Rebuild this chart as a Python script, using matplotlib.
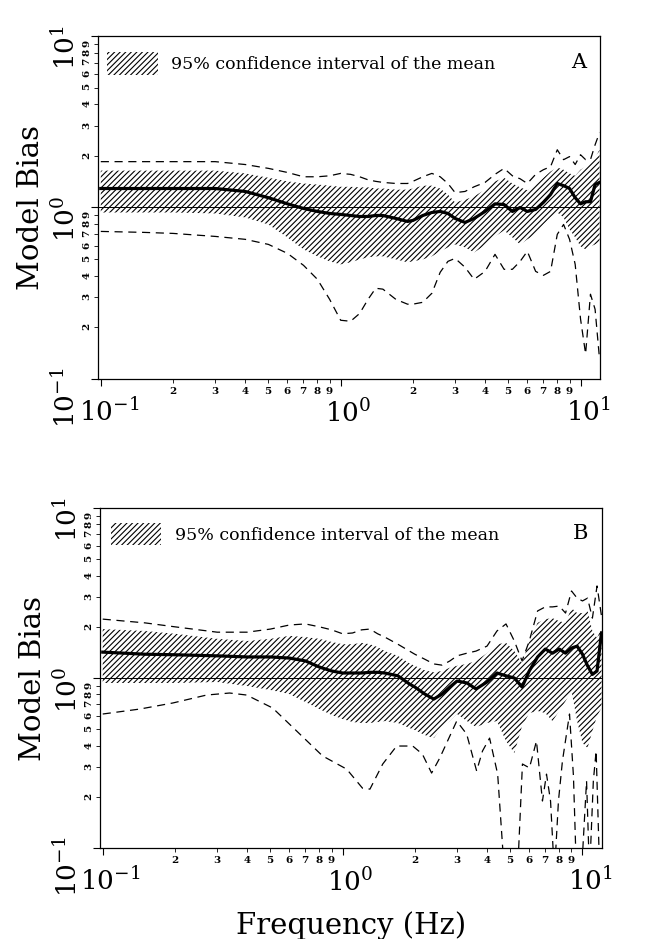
import numpy as np
import matplotlib
matplotlib.use('Agg')
import matplotlib.pyplot as plt
from matplotlib.ticker import LogLocator, FuncFormatter
from matplotlib.transforms import ScaledTranslation

plt.rcParams['font.family'] = ['DejaVu Serif']
plt.rcParams['mathtext.fontset'] = 'dejavuserif'
plt.rcParams['hatch.linewidth'] = 0.8

# ---------------- data ----------------
freq = [0.1, 0.15, 0.2, 0.3, 0.4, 0.5, 0.6, 0.7, 0.8, 0.9,
        1.0, 1.1, 1.2, 1.3, 1.4, 1.5, 1.7, 1.9, 2.0, 2.2,
        2.4, 2.6, 2.8, 3.0, 3.3, 3.6, 4.0, 4.4, 4.8, 5.2,
        5.6, 6.0, 6.5, 7.0, 7.5, 8.0, 8.5, 9.0, 9.5, 10,
        10.5, 11, 11.5, 12]

# Panel A
a_upper_dash = [1.85, 1.85, 1.85, 1.85, 1.78, 1.69, 1.60, 1.51, 1.51, 1.53,
                1.58, 1.56, 1.51, 1.45, 1.42, 1.40, 1.38, 1.38, 1.42, 1.51,
                1.58, 1.51, 1.38, 1.22, 1.24, 1.32, 1.40, 1.56, 1.69, 1.53,
                1.47, 1.38, 1.56, 1.66, 1.73, 2.17, 1.90, 1.98, 1.78, 2.03,
                1.90, 1.90, 2.32, 2.73]
a_ci_hi = [1.64, 1.64, 1.64, 1.64, 1.58, 1.49, 1.42, 1.38, 1.36, 1.34,
           1.32, 1.32, 1.31, 1.31, 1.29, 1.29, 1.27, 1.27, 1.29, 1.34,
           1.34, 1.29, 1.19, 1.07, 1.11, 1.16, 1.27, 1.42, 1.49, 1.38,
           1.31, 1.26, 1.36, 1.49, 1.62, 1.71, 1.66, 1.58, 1.53, 1.66,
           1.73, 1.83, 1.95, 2.17]
a_mean = [1.29, 1.29, 1.29, 1.29, 1.24, 1.14, 1.05, 0.987, 0.948, 0.923,
          0.911, 0.898, 0.886, 0.886, 0.898, 0.898, 0.863, 0.829, 0.840, 0.898,
          0.935, 0.948, 0.923, 0.863, 0.818, 0.863, 0.948, 1.05, 1.04, 0.948,
          1.0, 0.948, 0.974, 1.07, 1.19, 1.38, 1.34, 1.29, 1.14, 1.05,
          1.08, 1.08, 1.36, 1.40]
a_ci_lo = [0.935, 0.935, 0.935, 0.923, 0.875, 0.796, 0.669, 0.570, 0.519, 0.485,
           0.466, 0.479, 0.498, 0.512, 0.519, 0.519, 0.498, 0.479, 0.485, 0.498,
           0.519, 0.555, 0.585, 0.609, 0.585, 0.547, 0.601, 0.678, 0.735, 0.669,
           0.609, 0.652, 0.697, 0.796, 0.875, 0.935, 0.875, 0.745, 0.669, 0.593,
           0.570, 0.593, 0.609, 0.626]
a_lower_dash = [0.725, 0.716, 0.706, 0.678, 0.652, 0.609, 0.540, 0.460, 0.381, 0.291,
                0.220, 0.217, 0.241, 0.291, 0.338, 0.334, 0.291, 0.273, 0.273, 0.280,
                0.316, 0.419, 0.485, 0.505, 0.448, 0.381, 0.424, 0.533, 0.436, 0.436,
                0.485, 0.555, 0.424, 0.402, 0.424, 0.697, 0.796, 0.652, 0.466, 0.224,
                0.140, 0.312, 0.255, 0.131]

# Panel B
b_upper_dash = [2.22, 2.11, 2.00, 1.86, 1.86, 1.94, 2.05, 2.08, 2.00, 1.92,
                1.82, 1.84, 1.92, 1.94, 1.82, 1.74, 1.58, 1.44, 1.38, 1.29,
                1.21, 1.19, 1.26, 1.35, 1.40, 1.44, 1.54, 1.89, 2.08, 1.65,
                1.26, 1.65, 2.48, 2.62, 2.62, 2.65, 2.41, 3.25, 2.95, 2.84,
                2.95, 2.25, 3.48, 2.32]
b_ci_hi = [1.94, 1.89, 1.82, 1.70, 1.65, 1.70, 1.77, 1.74, 1.70, 1.63,
           1.58, 1.58, 1.61, 1.58, 1.52, 1.44, 1.35, 1.22, 1.18, 1.11,
           1.08, 1.10, 1.15, 1.18, 1.21, 1.26, 1.40, 1.58, 1.61, 1.44,
           1.22, 1.65, 2.11, 2.22, 2.25, 2.16, 2.11, 2.58, 2.41, 2.41,
           2.48, 1.89, 1.72, 1.97]
b_mean = [1.42, 1.38, 1.37, 1.35, 1.33, 1.33, 1.31, 1.26, 1.16, 1.10,
          1.07, 1.07, 1.07, 1.08, 1.08, 1.07, 1.03, 0.922, 0.885, 0.805,
          0.752, 0.805, 0.885, 0.960, 0.935, 0.862, 0.947, 1.07, 1.03, 1.0,
          0.885, 1.10, 1.33, 1.48, 1.40, 1.48, 1.40, 1.50, 1.54, 1.38,
          1.18, 1.05, 1.10, 1.84]
b_ci_lo = [0.935, 0.935, 0.935, 0.947, 0.897, 0.850, 0.805, 0.722, 0.657, 0.606,
           0.574, 0.551, 0.544, 0.544, 0.551, 0.558, 0.544, 0.508, 0.494, 0.462,
           0.443, 0.515, 0.558, 0.614, 0.558, 0.515, 0.544, 0.558, 0.426, 0.362,
           0.522, 0.622, 0.640, 0.622, 0.558, 0.640, 0.732, 0.839, 0.558, 0.415,
           0.388, 0.488, 0.598, 0.666]
b_lo_freq = [0.1, 0.143, 0.196, 0.271, 0.338, 0.398, 0.511, 0.643, 0.825, 1.04,
             1.21, 1.30, 1.47, 1.68, 1.96, 2.15, 2.35, 2.54, 2.99, 3.29,
             3.62, 3.83, 4.10, 4.43, 4.73, 5.06, 5.36, 5.62, 6.01, 6.43,
             6.81, 7.08, 7.36, 7.64, 7.94, 8.25, 8.83, 9.17, 9.44, 9.90,
             10.4, 10.7, 11.1, 11.4, 11.8, 12.0]
b_lower_dash = [0.614, 0.657, 0.713, 0.794, 0.816, 0.794, 0.666, 0.488, 0.348, 0.291,
                0.225, 0.222, 0.312, 0.398, 0.398, 0.357, 0.276, 0.338, 0.558, 0.468,
                0.284, 0.372, 0.443, 0.272, 0.07, 0.07, 0.07, 0.312, 0.296, 0.426,
                0.189, 0.272, 0.189, 0.07, 0.189, 0.325, 0.614, 0.265, 0.07, 0.07,
                0.248, 0.07, 0.248, 0.372, 0.07, 0.07]

legend_text = '95% confidence interval of the mean'

# ---------------- figure ----------------
fig = plt.figure(figsize=(6.5, 9.39), dpi=100)
axA = fig.add_axes([0.151, 0.5964, 0.772, 0.3653])
axB = fig.add_axes([0.154, 0.0969, 0.772, 0.3621])


def major_fmt(v, pos):
    e = int(round(np.log10(v)))
    return r'$10^{%d}$' % e


def minor_fmt(v, pos):
    d = int(round(v / 10 ** np.floor(np.log10(v) + 1e-9)))
    return r'$\mathbf{%d}$' % d


def draw_panel(ax, fx, upper, hi, mean, lo, flo, lower, letter, leg_anchor):
    ax.set_xscale('log')
    ax.set_yscale('log')
    band = ax.fill_between(fx, lo, hi, facecolor='none', edgecolor='black',
                           hatch='//////', linewidth=0)
    ax.plot(fx, upper, color='black', lw=0.9, ls=(0, (6.5, 4.5)))
    ax.plot(flo, lower, color='black', lw=0.9, ls=(0, (6.5, 4.5)))
    ax.plot(fx, mean, color='black', lw=2.3, solid_joinstyle='round')
    ax.axhline(1.0, color='black', lw=0.7)
    ax.set_xlim(0.0975, 12.05)
    ax.set_ylim(0.1, 10)
    for axis in (ax.xaxis, ax.yaxis):
        axis.set_major_locator(LogLocator(base=10))
        axis.set_minor_locator(LogLocator(base=10, subs=np.arange(2, 10), numticks=20))
        axis.set_major_formatter(FuncFormatter(major_fmt))
        axis.set_minor_formatter(FuncFormatter(minor_fmt))
    ax.tick_params(which='both', direction='out', top=False, right=False)
    ax.tick_params(which='major', length=5, width=0.8, labelsize=19)
    ax.tick_params(which='minor', length=3, width=0.6, labelsize=7.5)
    ax.tick_params(axis='x', which='major', pad=9)
    ax.tick_params(axis='x', which='minor', pad=1.5)
    ax.tick_params(axis='y', which='major', pad=8)
    ax.tick_params(axis='y', which='minor', pad=1.5)
    ax.tick_params(axis='y', which='both', labelrotation=90)
    for s in ax.spines.values():
        s.set_linewidth(0.9)
    ax.legend([band], [legend_text], loc='upper left', bbox_to_anchor=leg_anchor,
              frameon=False, fontsize=12.5, handlelength=2.9, handleheight=1.6,
              handletextpad=0.8, borderpad=0, borderaxespad=0)
    ax.text(0.958, 0.924, letter, transform=ax.transAxes, fontsize=15,
            ha='center', va='center')
    ax.set_ylabel('Model Bias', fontsize=21)
    ax.yaxis.set_label_coords(-0.105, 0.5)


draw_panel(axA, freq, a_upper_dash, a_ci_hi, a_mean, a_ci_lo, freq, a_lower_dash,
           'A', (0.018, 0.952))
draw_panel(axB, freq, b_upper_dash, b_ci_hi, b_mean, b_ci_lo, b_lo_freq, b_lower_dash,
           'B', (0.022, 0.956))
axB.set_xlabel('Frequency (Hz)', fontsize=21)
axB.xaxis.set_label_coords(0.5, -0.185)

fig.canvas.draw()
shift = ScaledTranslation(0.08, 0, fig.dpi_scale_trans)
for ax in (axA, axB):
    for t in ax.xaxis.get_major_ticks():
        t.label1.set_transform(t.label1.get_transform() + shift)

fig.savefig('out.png', dpi=100)
